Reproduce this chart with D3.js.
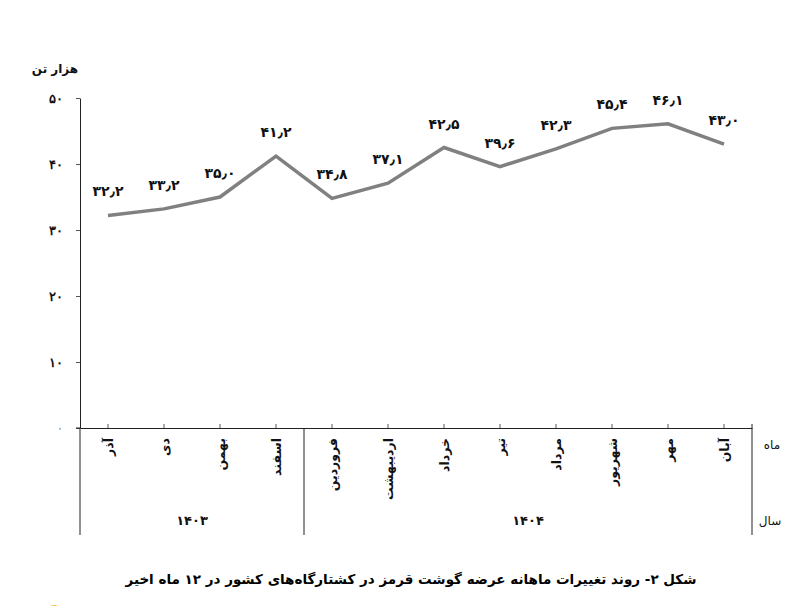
<!DOCTYPE html>
<html>
<head>
<meta charset="utf-8">
<script src="https://cdn.jsdelivr.net/npm/d3@7"></script>
<style>
  body { margin: 0; background: #fff; }
  svg { font-family: "DejaVu Sans", sans-serif; }
</style>
</head>
<body>
<figure id="line" style="margin:0"></figure>
<script>
// data
const months = ["آذر", "دی", "بهمن", "اسفند", "فروردین", "اردیبهشت", "خرداد", "تیر", "مرداد", "شهریور", "مهر", "آبان"];
const values = [32.2, 33.2, 35.0, 41.2, 34.8, 37.1, 42.5, 39.6, 42.3, 45.4, 46.1, 43.0];
const years = ["۱۴۰۳", "۱۴۰۴"];
const yearSpans = [4, 8];
const yTicks = [0, 10, 20, 30, 40, 50];

const W = 803, H = 606;
const mLeft = 80, mRight = 752, mTop = 98, mBottom = 428;

// persian digits
const fa = s => String(s).replace(/\d/g, d => "۰۱۲۳۴۵۶۷۸۹"[d]).replace(".", "٫");

const svg = d3.select("figure#line")
  .append("svg")
  .attr("width", W)
  .attr("height", H);

const x = d3.scaleBand()
  .domain(months)
  .range([mLeft, mRight]);

const y = d3.scaleLinear()
  .domain([0, 50])
  .range([mBottom, mTop]);

// y axis
const gy = svg.append("g")
  .attr("transform", "translate(" + mLeft + ",0)")
  .call(d3.axisLeft(y).tickValues(yTicks).tickSize(4).tickSizeOuter(0).tickPadding(13).tickFormat(fa));
gy.select(".domain").attr("stroke", "#222");
gy.selectAll(".tick line").attr("stroke", "#555");
gy.selectAll("text")
  .attr("font-size", 13)
  .attr("font-weight", "bold")
  .attr("fill", "#111");
gy.select(".tick text").attr("font-weight", "normal").attr("fill", "#555").attr("font-size", 11);

// axis line runs a bit below zero
svg.append("line")
  .attr("x1", mLeft).attr("x2", mLeft)
  .attr("y1", mBottom).attr("y2", 535)
  .attr("stroke", "#222");

// x axis
const gx = svg.append("g")
  .attr("transform", "translate(0," + mBottom + ")")
  .call(d3.axisBottom(x).tickSize(-4).tickSizeOuter(0).tickFormat(""));
gx.select(".domain").attr("stroke", "#222");
gx.selectAll(".tick line").attr("stroke", "#555");

svg.append("line")
  .attr("x1", mLeft - 4).attr("x2", mLeft)
  .attr("y1", mBottom).attr("y2", mBottom)
  .attr("stroke", "#222");

// month labels, rotated
svg.selectAll(".month")
  .data(months)
  .enter()
  .append("text")
  .attr("class", "month")
  .attr("transform", d => "translate(" + (x(d) + x.bandwidth() / 2 + 5) + ",438)rotate(-90)")
  .attr("text-anchor", "end")
  .attr("font-size", 12.5)
  .attr("font-weight", "bold")
  .attr("fill", "#111")
  .text(d => d);

// year groups
let acc = 0;
years.forEach((yr, i) => {
  const x0 = x(months[acc]);
  const x1 = x0 + yearSpans[i] * x.bandwidth();
  svg.append("text")
    .attr("x", (x0 + x1) / 2)
    .attr("y", 525)
    .attr("text-anchor", "middle")
    .attr("font-size", 13)
    .attr("font-weight", "bold")
    .attr("fill", "#111")
    .text(yr);
  acc += yearSpans[i];
  svg.append("line")
    .attr("x1", x1).attr("x2", x1)
    .attr("y1", i == years.length - 1 ? 424 : mBottom).attr("y2", 535)
    .attr("stroke", "#222");
});

svg.append("text").attr("x", 772).attr("y", 449).attr("text-anchor", "middle")
  .attr("font-size", 12).attr("fill", "#111").text("ماه");
svg.append("text").attr("x", 770).attr("y", 525).attr("text-anchor", "middle")
  .attr("font-size", 12).attr("fill", "#111").text("سال");

// unit label
svg.append("text")
  .attr("x", 55).attr("y", 73)
  .attr("text-anchor", "middle")
  .attr("font-size", 12)
  .attr("font-weight", "bold")
  .attr("fill", "#111")
  .text("هزار تن");

// the line
const line = d3.line()
  .x((d, i) => x(months[i]) + x.bandwidth() / 2)
  .y(d => y(d));

svg.append("path")
  .datum(values)
  .attr("fill", "none")
  .attr("stroke", "#808080")
  .attr("stroke-width", 3.5)
  .attr("stroke-linejoin", "miter")
  .attr("d", line);

// value labels
svg.selectAll(".val")
  .data(values)
  .enter()
  .append("text")
  .attr("class", "val")
  .attr("x", (d, i) => x(months[i]) + x.bandwidth() / 2)
  .attr("y", d => y(d) - 19)
  .attr("text-anchor", "middle")
  .attr("font-size", 14)
  .attr("font-weight", "bold")
  .attr("fill", "#111")
  .text(d => fa(d.toFixed(1)));

// caption
svg.append("text")
  .attr("x", 411).attr("y", 584)
  .attr("text-anchor", "middle")
  .attr("font-size", 13.5)
  .attr("font-weight", "bold")
  .attr("fill", "#000")
  .text("شکل ۲- روند تغییرات ماهانه عرضه گوشت قرمز در کشتارگاه‌های کشور در ۱۲ ماه اخیر");

// yellow mark at the bottom edge
svg.append("circle")
  .attr("cx", 54).attr("cy", 614).attr("r", 9)
  .attr("fill", "#f3c54b");
</script>
</body>
</html>
